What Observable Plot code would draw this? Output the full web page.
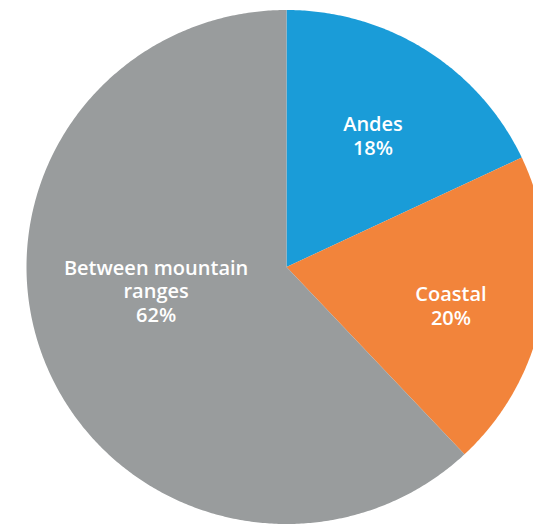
<!DOCTYPE html>
<html>
<head>
<meta charset="utf-8">
<script src="https://cdn.jsdelivr.net/npm/d3@7"></script>
<script src="https://cdn.jsdelivr.net/npm/@observablehq/plot@0.6"></script>
<style>
  html, body { margin: 0; padding: 0; background: #fff; }
  #chart svg { display: block; }
</style>
</head>
<body>
<div id="chart"></div>
<script>
// Data
const categories = ["Andes", "Coastal", "Between mountain ranges"];
const labels = ["Andes", "Coastal", "Between mountain\nranges"];
const shares = [18, 20, 62];
const colors = ["#1a9cd8", "#f2843b", "#999c9d"];
// label placement: fraction along slice's angle span, and radius fraction
const labelAlong = [0.51, 0.535, 0.55];
const labelRadius = [0.61, 0.65, 0.51];

const pie = d3.pie().sort(null).value(d => d)(shares);

// polygons in unit coordinates (angle clockwise from top)
const poly = [];
pie.forEach((s, i) => {
  poly.push({cat: categories[i], u: 0, v: 0});
  const n = Math.max(2, Math.ceil((s.endAngle - s.startAngle) / (Math.PI / 360)));
  for (let k = 0; k <= n; k++) {
    const a = s.startAngle + (s.endAngle - s.startAngle) * k / n;
    poly.push({cat: categories[i], u: Math.sin(a), v: Math.cos(a)});
  }
});

const labelData = pie.map((s, i) => {
  const a = s.startAngle + (s.endAngle - s.startAngle) * labelAlong[i];
  return {
    text: labels[i] + "\n" + shares[i] + "%",
    u: labelRadius[i] * Math.sin(a),
    v: labelRadius[i] * Math.cos(a)
  };
});

const W = 533, H = 526;
const cx = 286, cy = 266.5, rx = 260, ry = 257;

const chart = Plot.plot({
  width: W,
  height: H,
  margin: 0,
  x: {domain: [-cx / rx, (W - cx) / rx], range: [0, W], axis: null},
  y: {domain: [-(H - cy) / ry, cy / ry], range: [H, 0], axis: null},
  color: {domain: categories, range: colors},
  marks: [
    Plot.line(poly, {x: "u", y: "v", z: "cat", fill: "cat", stroke: "none", curve: "linear-closed"}),
    Plot.text(labelData, {
      x: "u", y: "v", text: "text",
      fill: "white",
      fontSize: 20,
      fontWeight: 600,
      fontFamily: "Open Sans",
      lineHeight: 1.18,
      textAnchor: "middle"
    })
  ]
});
document.getElementById("chart").appendChild(chart);
</script>
</body>
</html>
